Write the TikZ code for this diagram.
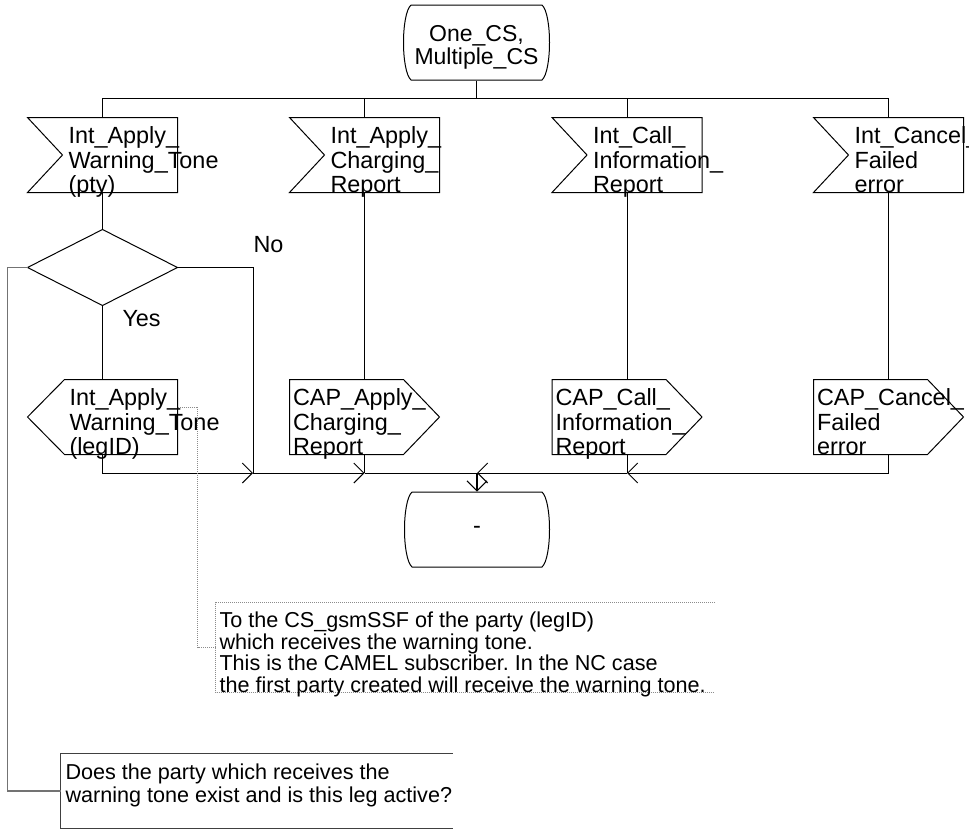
\documentclass[tikz,border=0pt]{standalone}
\usepackage{fontspec}
\setmainfont{Liberation Sans}
\usetikzlibrary{arrows.meta}
\frenchspacing
\newcommand\SDLin[1]{\draw (#1.north west) -- (#1.north east) -- (#1.south east) -- (#1.south west) -- ([xshift=35pt]#1.west) -- cycle;}
\newcommand\SDLoutR[1]{\draw (#1.north west) -- ([xshift=-36pt]#1.north east) -- (#1.east) -- ([xshift=-36pt]#1.south east) -- (#1.south west) -- cycle;}
\newcommand\SDLoutL[1]{\draw (#1.north east) -- ([xshift=37pt]#1.north west) -- (#1.west) -- ([xshift=37pt]#1.south west) -- (#1.south east) -- cycle;}
\begin{document}
\begin{tikzpicture}[x=1pt,y=-1pt,line width=1pt,
  box/.style={draw=none,rectangle,inner sep=0pt,minimum width=149pt,minimum height=74pt},
  txt/.style={anchor=north west,inner sep=0pt,align=left,font=\fontsize{23.4}{24.5}\selectfont},
  ctxt/.style={anchor=north west,inner sep=0pt,align=left,font=\fontsize{21.6}{21.5}\selectfont},
  lbl/.style={anchor=base west,inner sep=0pt,font=\fontsize{23.4}{24.5}\selectfont},
  arr/.style={-{Straight Barb[length=10pt,width=20pt,line width=1pt]}},
  cmtline/.style={draw=black!75,line width=1.2pt},
  dotline/.style={draw=black!45,line width=1pt,dash pattern=on 1pt off 1pt}]
\useasboundingbox (0,0) rectangle (969,830);
% start state
\node[box,minimum width=147pt,minimum height=75pt] (start) at (476.5,42.5) {};
\draw (411,5) -- (542,5) .. controls (552,14) and (552,71) .. (542,80) -- (411,80) .. controls (401,71) and (401,14) .. (411,5);
\node[anchor=north,inner sep=0pt,align=center,font=\fontsize{23}{23}\selectfont] (starttxt) at (476.5,25.2) {One\_CS,\\Multiple\_CS};
\coordinate (busy) at (0,98);
% inputs
\node[box] (in1) at (102.5,155) {};
\node[box] (in2) at (364.5,155) {};
\node[box] (in3) at (627,155) {};
\node[box] (in4) at (888.5,155) {};
\SDLin{in1}\SDLin{in2}\SDLin{in3}\SDLin{in4}
\node[txt] (in1t) at (68,126.2) {Int\_Apply\_\\Warning\_Tone\\(pty)};
\node[txt] (in2t) at (330,126.2) {Int\_Apply\_\\Charging\_\\Report};
\node[txt] (in3t) at (592.5,126.2) {Int\_Call\_\\Information\_\\Report};
\node[txt] (in4t) at (854,126.2) {Int\_Cancel\_\\Failed\\error};
% bus
\draw[line width=1.5pt] (start.south) -- (start.south |- busy);
\draw (in1.north) |- (busy -| in4.north) -- (in4.north);
\draw (in2.north) -- (in2.north |- busy);
\draw (in3.north) -- (in3.north |- busy);
% decision
\node[box,minimum height=75pt] (dec) at (102.5,267.5) {};
\draw (dec.north) -- (dec.east) -- (dec.south) -- (dec.west) -- cycle;
\draw (in1.south) -- (dec.north);
\node[lbl] (no) at (253,252) {No};
\node[lbl] (yes) at (122,326) {Yes};
% outputs
\node[box] (out1) at (102.5,417) {};
\node[box] (out2) at (364.5,417) {};
\node[box] (out3) at (627,417) {};
\node[box] (out4) at (888.5,417) {};
\SDLoutL{out1}\SDLoutR{out2}\SDLoutR{out3}\SDLoutR{out4}
\node[txt] (out1t) at (69,388.2) {Int\_Apply\_\\Warning\_Tone\\(legID)};
\node[txt] (out2t) at (292.5,388.2) {CAP\_Apply\_\\Charging\_\\Report};
\node[txt] (out3t) at (555,388.2) {CAP\_Call\_\\Information\_\\Report};
\node[txt] (out4t) at (816.5,388.2) {CAP\_Cancel\_\\Failed\\error};
\draw (dec.south) -- (out1.north);
\draw (in2.south) -- (out2.north);
\draw (in3.south) -- (out3.north);
\draw (in4.south) -- (out4.north);
% end state
\node[box,minimum width=150pt,minimum height=75pt] (endst) at (477,529.5) {};
\draw (412,492) -- (542,492) .. controls (552,501) and (552,558) .. (542,567) -- (412,567) .. controls (402,558) and (402,501) .. (412,492);
\node[font=\fontsize{23.4}{24.5}\selectfont,inner sep=0pt] (endtxt) at (endst) {-};
% merge
\coordinate (noj) at (253,473);
\coordinate (mj) at (477,473);
\draw (dec.east) -| (noj);
\draw[arr] (out1.south) |- (noj);
\draw[arr] (noj) -- (noj -| out2.south);
\draw (out2.south) -- (noj -| out2.south);
\draw (noj -| out2.south) -- (mj);
\draw[arr] (out4.south) |- (mj -| out3.south);
\draw (out3.south) -- (mj -| out3.south);
\draw[arr] (mj -| out3.south) -- (mj);
\draw[arr,line width=1.5pt] (mj) -- (endst.north);
% comment 1
\node[draw=none,rectangle,inner sep=0pt,minimum width=498pt,minimum height=89pt] (c1) at (465,647.5) {};
\draw[dotline] (c1.north east) -- (c1.north west) -- (c1.south west) -- (c1.south east);
\node[ctxt] (c1t) at (219,611.5) {To the CS\_gsmSSF of the party (legID)\\which receives the warning tone.\\This is the CAMEL subscriber. In the NC case\\the first party created will receive the warning tone.};
\draw[dotline] ([yshift=10pt]out1.east) -- ++(20,0) |- (c1.west);
% comment 2
\node[draw=none,rectangle,inner sep=0pt,minimum width=391pt,minimum height=74pt] (c2) at (256.5,791) {};
\draw[cmtline] (c2.north east) -- (c2.north west) -- (c2.south west) -- (c2.south east);
\node[ctxt,font=\fontsize{21.6}{23}\selectfont] (c2t) at (65,763.6) {Does the party which receives the\\warning tone exist and is this leg active?};
\draw[draw=black!55,line width=1.5pt] (dec.west) -- ++(-20,0) |- (c2.west);
\end{tikzpicture}
\end{document}
